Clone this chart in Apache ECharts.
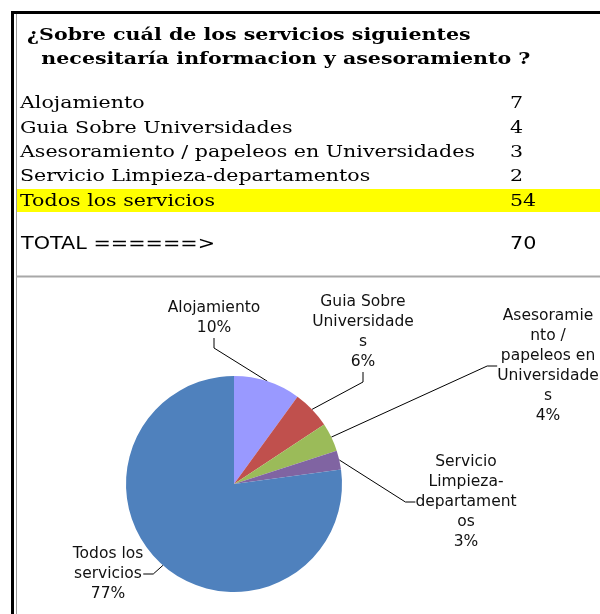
<!DOCTYPE html>
<html lang="es">
<head>
  <meta charset="UTF-8">
  <title>Servicios - informacion y asesoramiento</title>
  <style>
    html, body { margin: 0; padding: 0; background: #fff; }
    #chart { width: 600px; height: 614px; }
  </style>
  <script src="https://cdn.jsdelivr.net/npm/echarts@6/dist/echarts.min.js"></script>
</head>
<body>
  <div id="chart"></div>
  <script>
    // datos de la tabla
    var titleLines = ['¿Sobre cuál de los servicios siguientes', '  necesitaría informacion y asesoramiento ?'];
    var categories = ['Alojamiento', 'Guia Sobre Universidades', 'Asesoramiento / papeleos en Universidades', 'Servicio Limpieza-departamentos', 'Todos los servicios'];
    var values = [7, 4, 3, 2, 54];
    var totalLabel = 'TOTAL ======>';
    var total = 70;
    // etiquetas del grafico (cortadas como en Excel)
    var pieLabels = ['Alojamiento', 'Guia Sobre\nUniversidade\ns', 'Asesoramie\nnto /\npapeleos en\nUniversidade\ns', 'Servicio\nLimpieza-\ndepartament\nos', 'Todos los\nservicios'];
    var colors = ['#9999FF', '#C0504D', '#9BBB59', '#8064A2', '#4F81BD'];

    // posicion de cada etiqueta (centro x, top y)
    var labelPos = [[214, 298], [363, 292], [548, 306], [466, 452], [108, 544]];

    var chart = echarts.init(document.getElementById('chart'));

    var serif = '"DejaVu Serif", serif';
    var wide = 1.21; // la fuente original es mas ancha
    var graphics = [
      // bordes
      { type: 'line', shape: { x1: 11, y1: 12.5, x2: 600, y2: 12.5 }, style: { stroke: '#000', lineWidth: 3 } },
      { type: 'line', shape: { x1: 12.5, y1: 11, x2: 12.5, y2: 614 }, style: { stroke: '#000', lineWidth: 3 } },
      { type: 'line', shape: { x1: 16.5, y1: 14, x2: 16.5, y2: 614 }, style: { stroke: '#9a9a9a', lineWidth: 1 } },
      { type: 'line', shape: { x1: 16, y1: 276.5, x2: 600, y2: 276.5 }, style: { stroke: '#a8a8a8', lineWidth: 2 } },
      // fila amarilla
      { type: 'rect', shape: { x: 17, y: 189, width: 583, height: 23 }, style: { fill: '#FFFF00' } }
    ];
    titleLines.forEach(function (t, i) {
      graphics.push({ type: 'text', x: 27, y: 36 + i * 24, scaleX: wide, style: { text: t, font: 'bold 17px ' + serif, fill: '#000', verticalAlign: 'middle' } });
    });
    categories.forEach(function (c, i) {
      var y = 104 + i * 24.3;
      graphics.push({ type: 'text', x: 20, y: y, scaleX: wide, style: { text: c, font: '17px ' + serif, fill: '#000', verticalAlign: 'middle' } });
      graphics.push({ type: 'text', x: 510, y: y, scaleX: wide, style: { text: String(values[i]), font: '17px ' + serif, fill: '#000', verticalAlign: 'middle' } });
    });
    graphics.push({ type: 'text', x: 21, y: 245, scaleX: 1.22, style: { text: totalLabel, font: '17px "DejaVu Sans", sans-serif', fill: '#000', verticalAlign: 'middle' } });
    graphics.push({ type: 'text', x: 510, y: 245, scaleX: 1.22, style: { text: String(total), font: '17px "DejaVu Sans", sans-serif', fill: '#000', verticalAlign: 'middle' } });

    var option = {
      animation: false,
      color: colors,
      graphic: graphics,
      series: [{
        type: 'pie',
        center: [234, 484],
        radius: 108,
        startAngle: 90,
        clockwise: true,
        percentPrecision: 0,
        data: categories.map(function (c, i) { return { name: c, value: values[i] }; }),
        label: {
          show: true,
          formatter: function (p) { return pieLabels[p.dataIndex] + '\n' + Math.round(p.percent) + '%'; },
          fontFamily: '"DejaVu Sans", sans-serif',
          fontSize: 15.5,
          lineHeight: 20,
          color: '#111',
          align: 'center'
        },
        labelLine: { show: true, length: 15, length2: 10, lineStyle: { color: '#000', width: 1 } },
        labelLayout: function (params) {
          var p = labelPos[params.dataIndex];
          return { x: p[0], y: p[1], align: 'center', verticalAlign: 'top' };
        },
        emphasis: { disabled: true }
      }]
    };
    chart.setOption(option);
  </script>
</body>
</html>
